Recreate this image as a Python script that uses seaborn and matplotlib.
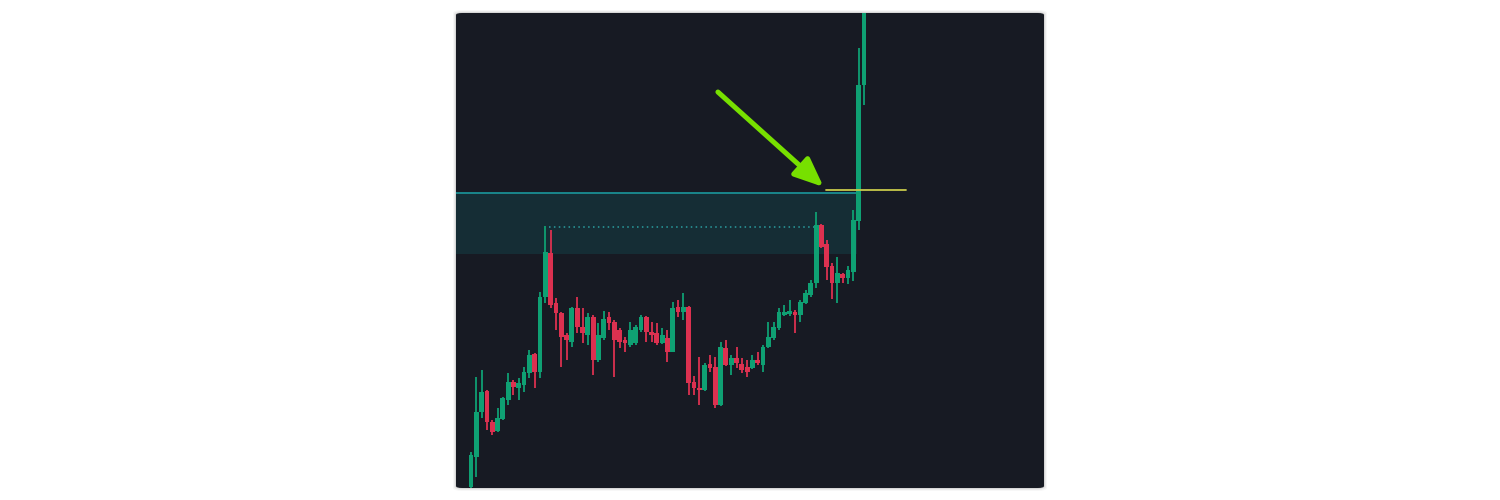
import numpy as np
import pandas as pd
import matplotlib.pyplot as plt
import seaborn as sns
from matplotlib.patches import FancyBboxPatch, FancyArrowPatch

# candle data (arbitrary price units)
opens = [13, 43, 88, 109, 78, 69, 81, 100, 118, 112, 115, 127, 146, 128, 203,
         247, 197, 187, 165, 158, 192, 173, 165, 183, 140, 162, 183, 178, 170, 160,
         155, 157, 170, 183, 168, 167, 157, 162, 148, 193, 188, 193, 118, 112, 110,
         136, 133, 95, 152, 135, 142, 136, 133, 132, 140, 135, 153, 162, 172, 185,
         186, 188, 185, 197, 205, 217, 275, 256, 234, 217, 226, 222, 228, 279, 415]
closes = [45, 88, 108, 78, 68, 82, 102, 118, 113, 117, 128, 145, 128, 203, 248,
          195, 187, 163, 160, 192, 173, 167, 183, 140, 165, 181, 177, 160, 158, 157,
          170, 173, 183, 168, 165, 157, 165, 148, 192, 188, 193, 117, 112, 110, 135,
          132, 95, 153, 135, 142, 137, 130, 128, 140, 137, 153, 163, 173, 188, 188,
          189, 185, 198, 207, 217, 275, 253, 233, 217, 227, 222, 230, 280, 415, 500]
highs = [48, 123, 130, 110, 80, 92, 103, 127, 120, 122, 133, 150, 147, 208, 274,
         270, 202, 188, 167, 193, 203, 192, 187, 185, 177, 189, 188, 180, 172, 163,
         178, 175, 185, 184, 178, 177, 172, 170, 198, 200, 207, 194, 124, 143, 137,
         145, 143, 158, 160, 145, 153, 142, 140, 145, 148, 155, 178, 178, 192, 195,
         200, 190, 200, 210, 220, 288, 276, 260, 237, 243, 227, 234, 290, 452, 510]
lows = [10, 23, 82, 70, 65, 68, 80, 95, 105, 100, 108, 122, 112, 122, 197,
        192, 170, 133, 140, 153, 167, 157, 155, 125, 138, 160, 170, 123, 152, 148,
        153, 155, 168, 158, 158, 155, 156, 138, 148, 183, 180, 105, 105, 95, 109,
        128, 92, 94, 134, 125, 132, 127, 123, 131, 135, 128, 152, 160, 170, 184,
        184, 167, 178, 196, 203, 212, 252, 220, 201, 197, 217, 216, 219, 270, 395]

zone_top = 307
zone_bottom = 246
prev_high = 273
breakout_level = 310

bg = "#171a23"
green = "#0fa073"
red = "#dc3150"

df = pd.DataFrame({"open": opens, "close": closes, "high": highs, "low": lows})
df["idx"] = np.arange(len(df))
df["up"] = df["close"] >= df["open"]
df["color"] = np.where(df["up"], green, red)

sns.set_theme(style="dark")
fig = plt.figure(figsize=(15, 5), dpi=100)
fig.patch.set_facecolor("white")

# panel with rounded corners and a soft shadow
left, bottom, w, h = 456 / 1500, 12 / 500, 588 / 1500, 475 / 500
for pad, a in [(0.006, 0.03), (0.004, 0.05), (0.002, 0.08)]:
    fig.patches.append(FancyBboxPatch((left - pad / 3, bottom - pad), w + 2 * pad / 3, h + 2 * pad,
                                      boxstyle="round,pad=0,rounding_size=0.006",
                                      transform=fig.transFigure, facecolor="#000000",
                                      alpha=a, edgecolor="none", zorder=0))
fig.patches.append(FancyBboxPatch((left, bottom), w, h,
                                  boxstyle="round,pad=0,rounding_size=0.004",
                                  transform=fig.transFigure, facecolor=bg,
                                  edgecolor="none", zorder=1))

ax = fig.add_axes([left, bottom, w, h])
ax.set_facecolor("none")
ax.set_zorder(2)

# supply zone
ax.fill_between([-3, 72.6], zone_bottom, zone_top, color="#15333a", alpha=0.8, lw=0, zorder=1)
ax.plot([-3, 72.6], [zone_top, zone_top], color="#1a8e93", lw=1.3, zorder=2)
ax.plot([14.6, 64.6], [prev_high, prev_high], color="#2a9ea0", lw=1.1, ls=(0, (1, 2.2)), zorder=2)
ax.plot([66.8, 81.9], [breakout_level, breakout_level], color="#c8c84a", lw=1.3, zorder=5)

# candles
ax.vlines(df["idx"], df["low"], df["high"], colors=df["color"], lw=1.3, zorder=3)
body_lo = df[["open", "close"]].min(axis=1)
body_h = (df["close"] - df["open"]).abs().clip(lower=1.5)
ax.bar(df["idx"], body_h, bottom=body_lo, width=0.9, color=df["color"], lw=0, zorder=4)

# arrow
ax.add_patch(FancyArrowPatch((46.5, 408), (66.4, 313), arrowstyle="-|>,head_length=8,head_width=3.4",
                             mutation_scale=2.2, color="#77e000", lw=3.6, zorder=6,
                             shrinkA=0, shrinkB=0))

ax.set_xlim(-2.82, 107.9)
ax.set_ylim(12, 487)
ax.set_xticks([])
ax.set_yticks([])
ax.grid(False)
for s in ax.spines.values():
    s.set_visible(False)

fig.savefig("out.png", dpi=100, facecolor="white")
